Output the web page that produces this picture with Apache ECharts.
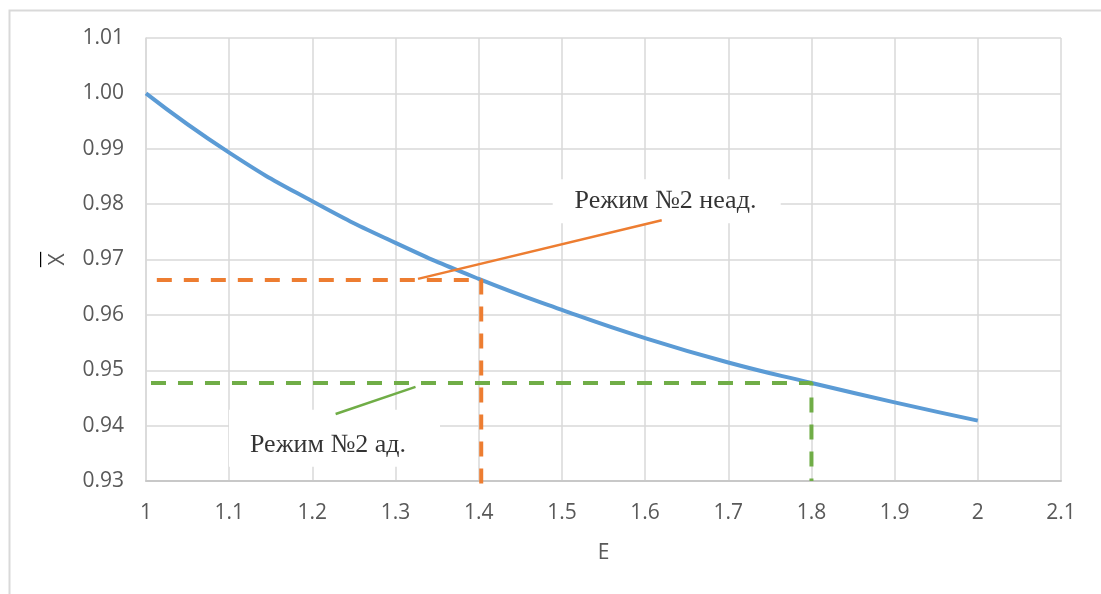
<!DOCTYPE html>
<html>
<head>
<meta charset="utf-8">
<script src="https://cdn.jsdelivr.net/npm/echarts@6/dist/echarts.min.js"></script>
<style>html,body{margin:0;padding:0;background:#fff;}#c{width:1101px;height:594px;}</style>
</head>
<body>
<div id="c"></div>
<script>
// ---- data ----
const eValues = [1.0, 1.1, 1.2, 1.3, 1.4, 1.5, 1.6, 1.7, 1.8, 1.9, 2.0];
const xBarValues = [1.0000, 0.9893, 0.9805, 0.9730, 0.9665, 0.9609, 0.9558, 0.9514, 0.9477, 0.9442, 0.9409];
const nonAdPath = [[1.013, 0.9663], [1.403, 0.9663], [1.403, 0.928]];
const adPath = [[1.006, 0.9477], [1.8, 0.9477], [1.8, 0.93]];
const nonAdLeader = [[1.327, 0.9665], [1.62, 0.9771]];
const adLeader = [[1.228, 0.9421], [1.324, 0.9470]];
const nonAdLabel = "Режим №2 неад.";
const adLabel = "Режим №2 ад.";
const nonAdBoxCenter = [1.626, 0.9805];
const adBoxCenter = [1.2266, 0.9377];
const nonAdTextPos = [1.6245, 0.9805];
const adTextPos = [1.2188, 0.9365];
const xTicks = ["1", "1.1", "1.2", "1.3", "1.4", "1.5", "1.6", "1.7", "1.8", "1.9", "2", "2.1"];
const yTicks = ["0.93", "0.94", "0.95", "0.96", "0.97", "0.98", "0.99", "1.00", "1.01"];
const xAxisName = "E";

const chart = echarts.init(document.getElementById('c'));
const tickFont = {color: '#595959', fontFamily: 'Open Sans', fontSize: 21};
const serif = 'Liberation Serif';
const curvePts = eValues.map((e, i) => [e, xBarValues[i]]);

chart.setOption({
  animation: false,
  backgroundColor: '#fff',
  graphic: [{
    type: 'rect', left: 7, top: 8, silent: true, z: -10,
    shape: {width: 1300, height: 800},
    style: {fill: 'none', stroke: '#d9d9d9', lineWidth: 2}
  }],
  grid: {left: 146, right: 40, top: 38, bottom: 113, containLabel: false},
  xAxis: {
    type: 'value', min: 1, max: 2.1, interval: 0.1,
    name: xAxisName, nameLocation: 'middle', nameGap: 62,
    nameTextStyle: {color: '#595959', fontFamily: 'Open Sans', fontSize: 21},
    axisLine: {show: true, lineStyle: {color: '#c8c8c8', width: 2}},
    axisTick: {show: false},
    axisLabel: Object.assign({margin: 22, formatter: v => xTicks[Math.round((v - 1) * 10)]}, tickFont),
    splitLine: {show: true, lineStyle: {color: '#d9d9d9', width: 1.5}}
  },
  yAxis: {
    type: 'value', min: 0.93, max: 1.01, interval: 0.01,
    name: '{bar|—}\n{x|X}', nameLocation: 'middle', nameGap: 78, nameRotate: 90,
    nameTextStyle: {
      rich: {
        bar: {color: '#000', fontFamily: 'DejaVu Sans', fontSize: 17, lineHeight: 14, align: 'center'},
        x: {color: '#595959', fontFamily: 'Open Sans', fontSize: 21, lineHeight: 20, align: 'center'}
      }
    },
    axisLine: {show: true, lineStyle: {color: '#d9d9d9', width: 1.5}},
    axisTick: {show: false},
    axisLabel: Object.assign({margin: 22, formatter: v => yTicks[Math.round((v - 0.93) * 100)]}, tickFont),
    splitLine: {show: true, lineStyle: {color: '#d9d9d9', width: 1.5}}
  },
  series: [
    {
      type: 'scatter', z: 1, silent: true,
      symbol: 'rect',
      data: [
        {value: nonAdBoxCenter, symbolSize: [228, 44]},
        {value: adBoxCenter, symbolSize: [211, 57]}
      ],
      itemStyle: {color: '#fff', opacity: 1}
    },
    {
      type: 'line', data: curvePts, smooth: true, showSymbol: false, z: 3,
      lineStyle: {color: '#5b9bd5', width: 4}
    },
    {
      type: 'line', data: nonAdPath, showSymbol: false, clip: false, z: 4,
      lineStyle: {color: '#ed7d31', width: 4, type: [15, 12]}
    },
    {
      type: 'line', data: adPath, showSymbol: false, clip: false, z: 4,
      lineStyle: {color: '#70ad47', width: 4, type: [15, 12]}
    },
    {
      type: 'line', data: nonAdLeader, showSymbol: false, z: 4,
      lineStyle: {color: '#ed7d31', width: 2.5}
    },
    {
      type: 'line', data: adLeader, showSymbol: false, z: 4,
      lineStyle: {color: '#70ad47', width: 2.5}
    },
    {
      type: 'scatter', z: 5, silent: true, symbolSize: 0,
      data: [
        {value: nonAdTextPos, label: {formatter: nonAdLabel}},
        {value: adTextPos, label: {formatter: adLabel}}
      ],
      label: {show: true, position: 'inside', color: '#000', fontFamily: serif, fontSize: 26}
    }
  ]
});
</script>
</body>
</html>
